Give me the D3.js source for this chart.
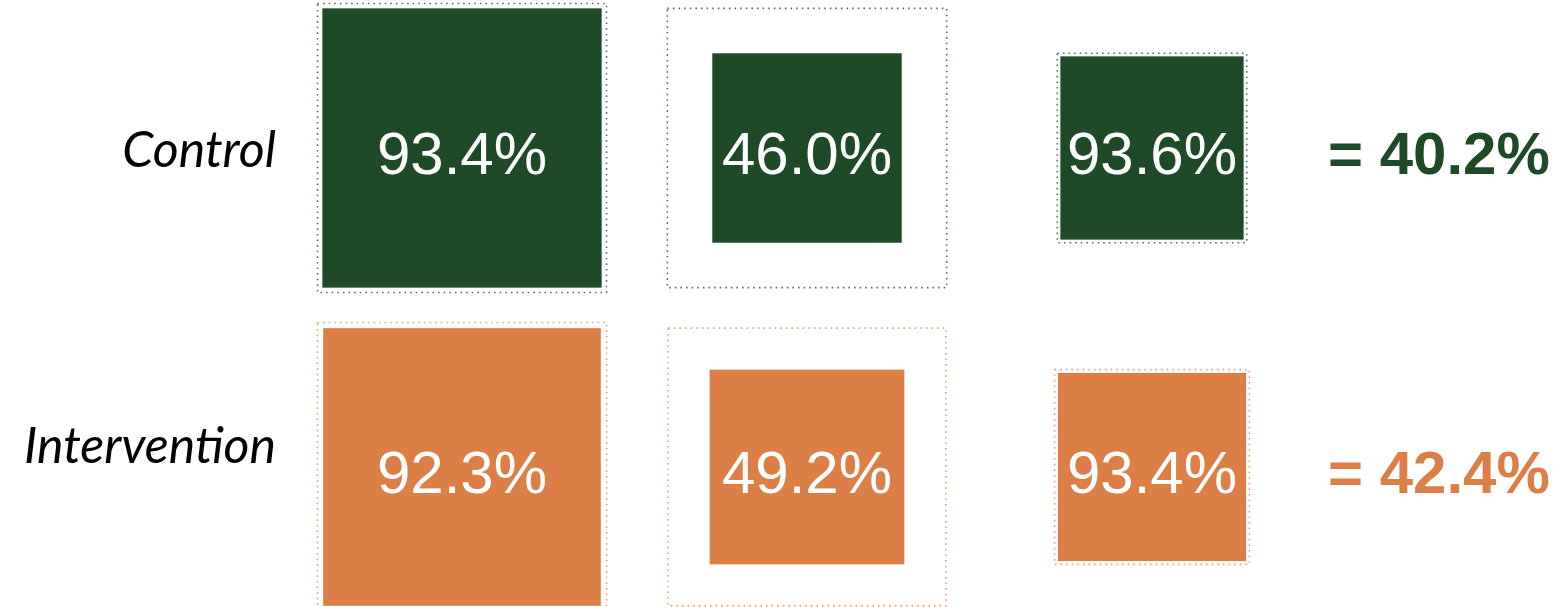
<!DOCTYPE html>
<html lang="en">
<head>
    <meta charset="UTF-8">
    <title>Cascade of proportions</title>
    <script src="https://d3js.org/d3.v7.min.js"></script>
    <style>
        body { margin: 0; background: #fff; }
        .pct { font-family: "Liberation Sans", Arial, sans-serif; font-size: 60px; fill: #fff; }
        .total { font-family: "Liberation Sans", Arial, sans-serif; font-size: 60px; font-weight: bold; }
        .group { font-family: Lato, "Open Sans", sans-serif; font-style: italic; font-size: 50px; fill: #000; }
    </style>
</head>
<body>
    <div id="chart"></div>
    <script>
        // data
        var groups = ["Control", "Intervention"];
        var step1 = [93.4, 92.3];
        var step2 = [46.0, 49.2];
        var step3 = [93.6, 93.4];
        var totals = [40.2, 42.4];

        var fills = ["#1f4a28", "#dc7f47"];
        var dots = ["#4f7460", "#eea173"];
        var labelDy = [19, -4];

        var width = 1557, height = 607;
        var startSize = 289;

        var svg = d3.select("#chart").append("svg")
            .attr("width", width)
            .attr("height", height);

        var x = d3.scalePoint().domain([0, 1, 2]).range([462, 1152]);
        var y = d3.scalePoint().domain(groups).range([148, 467]);

        // each step: outer box = inner box of previous step, inner side ~ sqrt(p)
        var cells = [];
        groups.forEach(function(g, gi) {
            var outer = startSize;
            [step1[gi], step2[gi], step3[gi]].forEach(function(p, si) {
                var side = d3.scaleSqrt().domain([0, 100]).range([0, outer]);
                cells.push({ group: g, gi: gi, step: si, value: p, outer: outer, inner: side(p) });
                outer = side(p);
            });
        });

        var cell = svg.selectAll("g.cell")
            .data(cells)
            .enter()
            .append("g")
            .attr("class", "cell")
            .attr("transform", d => "translate(" + x(d.step) + "," + y(d.group) + ")");

        cell.append("rect")
            .attr("x", d => -d.outer / 2)
            .attr("y", d => -d.outer / 2)
            .attr("width", d => d.outer)
            .attr("height", d => d.outer)
            .attr("fill", "none")
            .attr("stroke", d => dots[d.gi])
            .attr("stroke-width", 1.6)
            .attr("stroke-dasharray", "1.6,4");

        cell.append("rect")
            .attr("x", d => -d.inner / 2)
            .attr("y", d => -d.inner / 2)
            .attr("width", d => d.inner)
            .attr("height", d => d.inner)
            .attr("fill", d => fills[d.gi]);

        cell.append("text")
            .attr("class", "pct")
            .attr("text-anchor", "middle")
            .attr("y", 26)
            .text(d => d.value.toFixed(1) + "%");

        // group labels
        svg.selectAll("text.group")
            .data(groups)
            .enter()
            .append("text")
            .attr("class", "group")
            .attr("text-anchor", "end")
            .attr("x", 276)
            .attr("y", (d, i) => y(d) + labelDy[i])
            .text(d => d);

        // totals
        svg.selectAll("text.total")
            .data(totals)
            .enter()
            .append("text")
            .attr("class", "total")
            .attr("x", 1328)
            .attr("y", (d, i) => y(groups[i]) + 26)
            .attr("fill", (d, i) => fills[i])
            .text(d => "= " + d.toFixed(1) + "%");
    </script>
</body>
</html>
